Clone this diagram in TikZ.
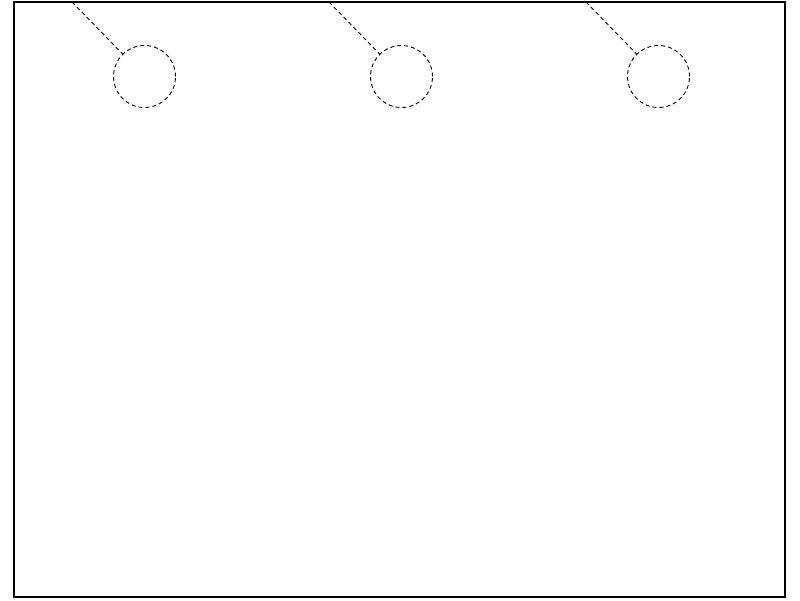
\documentclass[tikz,border=0pt]{standalone}
\begin{document}
\begin{tikzpicture}[x=1pt,y=-1pt,
  frame/.style={draw=black,line width=2pt},
  hole/.style={circle,draw=black,line width=0.9pt,dash pattern=on 4pt off 3pt,minimum size=62pt,inner sep=0pt},
  lead/.style={draw=black,line width=0.9pt,dash pattern=on 4pt off 3pt}]
\useasboundingbox (0,0) rectangle (800,600);
\draw[frame] (14,2) rectangle (785,597);
\node[hole] (c1) at (144.5,76.5) {};
\node[hole] (c2) at (401.5,76.5) {};
\node[hole] (c3) at (658.5,76.5) {};
\coordinate (t1) at (72,2);
\coordinate (t2) at (329,2);
\coordinate (t3) at (586,2);
\draw[lead] (t1) -- (c1);
\draw[lead] (t2) -- (c2);
\draw[lead] (t3) -- (c3);
\end{tikzpicture}
\end{document}
